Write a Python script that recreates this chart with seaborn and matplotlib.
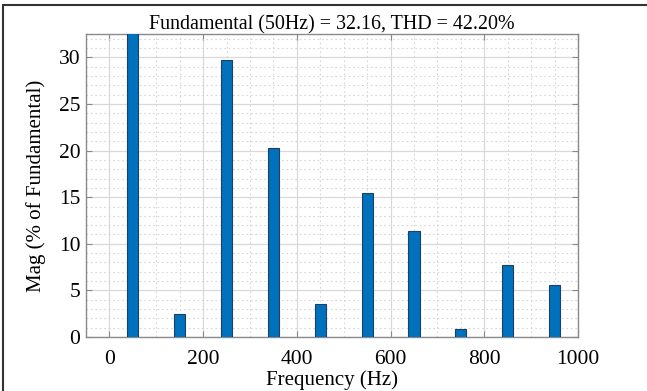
import numpy as np
import pandas as pd
import matplotlib
matplotlib.use("Agg")
import matplotlib.pyplot as plt
from matplotlib.lines import Line2D
from matplotlib.ticker import MultipleLocator
import seaborn as sns

# Harmonic spectrum (odd harmonics of 50 Hz)
freqs = [50, 150, 250, 350, 450, 550, 650, 750, 850, 950]
mags = [100.0, 2.5, 29.7, 20.3, 3.5, 15.4, 11.4, 0.85, 7.7, 5.55]
fundamental = 32.16
thd = 42.20

x_ticks = [0, 200, 400, 600, 800, 1000]
y_ticks = [0, 5, 10, 15, 20, 25, 30]

sns.set_style("whitegrid")
plt.rcParams["font.family"] = ["Liberation Serif", "DejaVu Serif"]
plt.rcParams["text.color"] = "black"
plt.rcParams["axes.labelcolor"] = "black"

df = pd.DataFrame({"Frequency": freqs, "Mag": mags})

fig = plt.figure(figsize=(6.47, 3.91), dpi=100)
ax = fig.add_axes([0.1329, 0.138, 0.7605, 0.775])

sns.barplot(data=df, x="Frequency", y="Mag", native_scale=True, width=0.24,
            color="#0072BD", saturation=1, edgecolor="#1d3f66", linewidth=0.8,
            ax=ax, zorder=3)

ax.set_xlim(-50, 1000)
ax.set_ylim(0, 32.5)
ax.set_xticks(x_ticks)
ax.set_yticks(y_ticks)
ax.xaxis.set_minor_locator(MultipleLocator(50))
ax.yaxis.set_minor_locator(MultipleLocator(1))

ax.grid(True, which="major", color="#d9d9d9", linewidth=0.9, linestyle="-", zorder=0)
ax.grid(True, which="minor", color="#d6d6d6", linewidth=0.8, linestyle=(0, (1.5, 2.5)), zorder=0)
ax.set_axisbelow(True)

for s in ax.spines.values():
    s.set_visible(True)
    s.set_color("#8a8a8a")
    s.set_linewidth(1.0)

ax.tick_params(which="major", direction="in", length=4, width=0.8, color="#8a8a8a",
               labelsize=15.5, labelcolor="black", top=True, right=True,
               bottom=True, left=True)
ax.tick_params(axis="x", which="major", pad=9)
ax.tick_params(axis="y", which="major", pad=4)
ax.tick_params(which="minor", length=0)

ax.set_xlabel("Frequency (Hz)", fontsize=15, labelpad=1)
ax.set_ylabel("Mag (% of Fundamental)", fontsize=15, labelpad=9)
ax.set_title(f"Fundamental (50Hz) = {fundamental:.2f}, THD = {thd:.2f}%",
             fontsize=14.4, pad=3)

# Frame lines on the left and top of the figure
fig.add_artist(Line2D([3 / 647, 3 / 647], [0, 1 - 5 / 391], transform=fig.transFigure,
                      color="#333333", linewidth=1.5))
fig.add_artist(Line2D([3 / 647, 1], [1 - 5 / 391, 1 - 5 / 391], transform=fig.transFigure,
                      color="#333333", linewidth=1.5))

fig.savefig("out.png", dpi=100)
